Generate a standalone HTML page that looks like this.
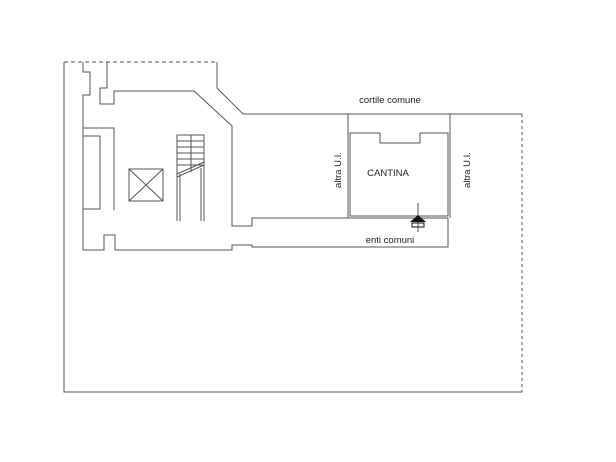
<!DOCTYPE html>
<html><head><style>body{margin:0;background:#fff}svg{display:block}</style></head><body>
<svg width="616" height="462" viewBox="0 0 616 462" xmlns="http://www.w3.org/2000/svg" font-family="Liberation Sans, sans-serif">
<g fill="none" stroke="#555" stroke-width="1">
<path d="M64 62 H217" stroke-dasharray="4 3"/>
<path d="M522 114 V392" stroke-dasharray="3 3"/>
<path d="M522 392 H64 V62"/>
<path d="M217 62 V88 L243 114 H522"/>
<path d="M83 62 V72 H90 V95 H83 V128 H114 V210"/>
<path d="M83 128 V250 H104 V235 H115 V250 H232 V245 H252 V247 H448 V218"/>
<path d="M107 62 V88 H100 V104 H114 V91 H194 L232 126 V226 H252 V218 H448"/>
<rect x="83" y="136" width="17" height="73"/>
<rect x="129" y="169" width="34" height="32"/>
<path d="M129 169 L163 201 M163 169 L129 201"/>
<path d="M177 221 V135 H204 V221 M180 221 V174 M201 221 V168 M191 135 V172"/>
<path d="M177 141 H204 M177 147 H204 M177 153 H204 M177 159 H204 M177 165 H204 M177 177 L204 165 M177 174 L204 162"/>
<path d="M348 114 V218 M450 114 V218"/>
<path d="M350 216 V133 H380 V143 H420 V133 H448 V216 Z"/>
<path d="M418 203 V232"/>
</g>
<path d="M410 222 L418 215 L426 222 Z" fill="#111"/>
<rect x="412" y="223" width="12" height="4" fill="none" stroke="#111"/>
<g font-size="9.5" fill="#222">
<text x="390" y="103" text-anchor="middle">cortile comune</text>
<text x="388" y="176" text-anchor="middle">CANTINA</text>
<text x="390" y="243" text-anchor="middle">enti comuni</text>
<text transform="translate(341,170) rotate(-90)" text-anchor="middle">altra U.I.</text>
<text transform="translate(470,170) rotate(-90)" text-anchor="middle">altra U.I.</text>
</g>
</svg>
</body></html>
